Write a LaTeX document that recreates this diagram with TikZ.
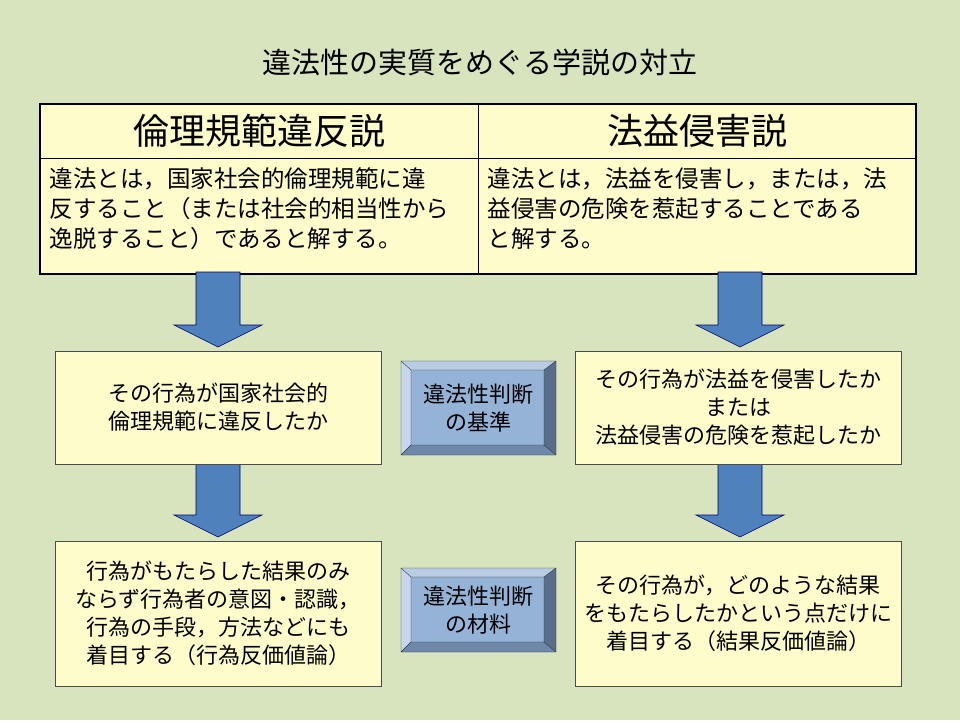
\documentclass[tikz,border=0pt]{standalone}
\usepackage{fontspec}
\setmainfont{Noto Sans CJK JP}
\definecolor{bg}{RGB}{215,228,189}
\definecolor{arrblue}{RGB}{79,129,189}
\definecolor{bvtop}{RGB}{184,204,228}
\definecolor{bvleft}{RGB}{198,214,236}
\definecolor{bvright}{RGB}{90,110,140}
\definecolor{bvbot}{RGB}{110,135,170}
\definecolor{bvface}{RGB}{149,179,215}
\begin{document}
\begin{tikzpicture}[x=1pt,y=-1pt,
  box/.style={draw=black!70,fill=yellow!20,line width=0.6pt},
  arr/.style={draw=blue!40!black,fill=arrblue,line width=0.6pt},
  txt/.style={font=\fontsize{22}{28}\selectfont,align=center},
  btxt/.style={font=\fontsize{23.5}{30}\selectfont,align=left,anchor=north west}]
\useasboundingbox (0,0) rectangle (960,720);
\fill[bg] (0,0) rectangle (960,720);
\node[font=\fontsize{29}{34}\selectfont] (title) at (480,62) {違法性の実質をめぐる学説の対立};
% table
\fill[yellow!20] (40,104) rectangle (916,274);
\draw[line width=0.6pt] (40,158) -- (916,158) (478,104) -- (478,274);
\draw[line width=2.2pt] (40,104) rectangle (916,274);
\node[font=\fontsize{36}{40}\selectfont] (h1) at (259,131) {倫理規範違反説};
\node[font=\fontsize{36}{40}\selectfont] (h2) at (697,131) {法益侵害説};
\node[btxt] (b1) at (46,164) {違法とは，国家社会的倫理規範に違\\反すること（または社会的相当性から\\逸脱すること）であると解する。};
\node[btxt] (b2) at (484,164) {違法とは，法益を侵害し，または，法\\益侵害の危険を惹起することである\\と解する。};
% arrows
\foreach \cx/\ya/\yb/\yc in {218/272/325/347, 740/272/325/347, 218/463/515/537, 740/463/515/537}{
  \draw[arr] (\cx-22,\ya) -- (\cx+22,\ya) -- (\cx+22,\yb) -- (\cx+44,\yb) -- (\cx,\yc) -- (\cx-44,\yb) -- (\cx-22,\yb) -- cycle;}
% boxes
\draw[box] (55,351) rectangle (381,464);
\node[txt] (l1) at (218,407) {その行為が国家社会的\\倫理規範に違反したか};
\draw[box] (575,351) rectangle (901,464);
\node[txt] (r1) at (738,407) {その行為が法益を侵害したか\\または\\法益侵害の危険を惹起したか};
\draw[box] (55,541) rectangle (381,686);
\node[txt] (l2) at (218,613) {行為がもたらした結果のみ\\ならず行為者の意図・認識，\\行為の手段，方法などにも\\着目する（行為反価値論）};
\draw[box] (575,541) rectangle (901,686);
\node[txt] (r2) at (738,613) {その行為が，どのような結果\\をもたらしたかという点だけに\\着目する（結果反価値論）};
% bevel buttons
\foreach \ya/\yb/\t [count=\i] in {361/455/{違法性判断\\の基準}, 568/652/{違法性判断\\の材料}}{
  \pgfmathsetmacro\yc{\ya+9}\pgfmathsetmacro\yd{\yb-10}
  \fill[bvtop] (401,\ya) -- (556,\ya) -- (544,\yc) -- (411,\yc) -- cycle;
  \fill[bvleft] (401,\ya) -- (411,\yc) -- (411,\yd) -- (401,\yb) -- cycle;
  \fill[bvright] (556,\ya) -- (556,\yb) -- (544,\yd) -- (544,\yc) -- cycle;
  \fill[bvbot] (401,\yb) -- (556,\yb) -- (544,\yd) -- (411,\yd) -- cycle;
  \fill[bvface] (411,\yc) rectangle (544,\yd);
  \draw[black!80,line width=0.4pt] (401,\ya) rectangle (556,\yb) (411,\yc) rectangle (544,\yd)
    (401,\ya) -- (411,\yc) (556,\ya) -- (544,\yc) (401,\yb) -- (411,\yd) (556,\yb) -- (544,\yd);
  \node[txt,font=\fontsize{22}{28}\selectfont] (btn\i) at (478,{(\ya+\yb)/2}) {\t};
}
\end{tikzpicture}
\end{document}
